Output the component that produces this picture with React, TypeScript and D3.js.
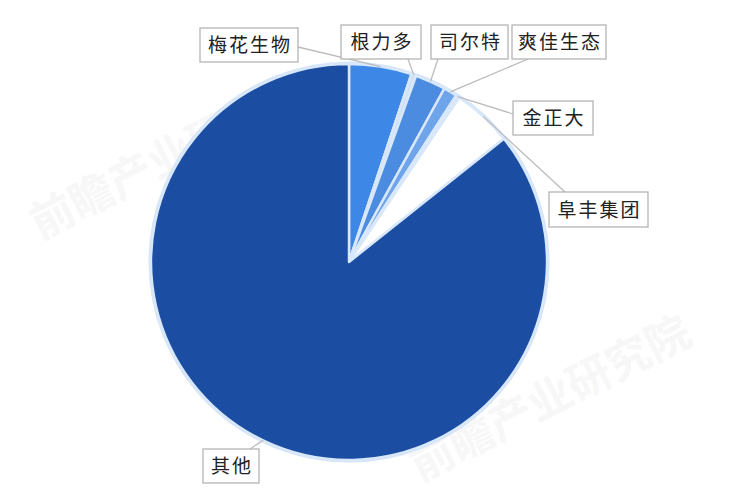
import { useRef, useEffect } from 'react'
import * as d3 from 'd3'

// share of market (%), clockwise from 12 o'clock
const companies = ['梅花生物', '根力多', '司尔特', '爽佳生态', '金正大', '阜丰集团', '其他']
const shares = [5.1, 0.4, 2.5, 1.1, 0.3, 4.9, 85.7]
const sliceColors = ['#3d87e6', '#cfe0f7', '#4c8ce0', '#6ea4ea', '#dbe8f8', '#ffffff', '#1b4ea2']

// label boxes: [x, y, w, h] and the point on the box the leader line starts from
const labelBoxes: [number, number, number, number][] = [
  [200, 28, 98, 34],
  [341, 25, 80, 34],
  [431, 25, 77, 34],
  [512, 25, 94, 34],
  [513, 101, 80, 34],
  [549, 192, 99, 35],
  [203, 449, 56, 34],
]
const leaderStarts: [number, number][] = [
  [298, 47],
  [408, 59],
  [438, 59],
  [528, 59],
  [513, 114],
  [565, 192],
  [250, 449],
]

export default function App() {
  const ref = useRef<SVGSVGElement>(null)

  useEffect(() => {
    if (!ref.current) return
    const svg = d3.select(ref.current)
    svg.selectAll('*').remove()

    const cx = 349
    const cy = 262
    const r = 198

    svg.append('rect').attr('width', 750).attr('height', 500).attr('fill', '#fff')

    // faint watermark
    const marks: [number, number, number][] = [
      [40, 240, -27],
      [420, 482, -27],
    ]
    marks.forEach(([x, y, a]) => {
      svg
        .append('text')
        .attr('transform', `translate(${x},${y}) rotate(${a})`)
        .attr('font-family', '"Noto Sans CJK SC", sans-serif')
        .attr('font-size', 44)
        .attr('font-weight', 700)
        .attr('fill', '#c8c8c8')
        .attr('opacity', 0.14)
        .text('前瞻产业研究院')
    })

    const pie = d3
      .pie<number>()
      .sort(null)
      .value((d) => d)
    const arcs = pie(shares)
    const arc = d3.arc<d3.PieArcDatum<number>>().innerRadius(0).outerRadius(r)

    const g = svg.append('g').attr('transform', `translate(${cx},${cy})`)

    // outer glow
    g.append('circle').attr('r', r + 1).attr('fill', 'none').attr('stroke', '#d6e6f9').attr('stroke-width', 3)

    g.selectAll('path.slice')
      .data(arcs)
      .enter()
      .append('path')
      .attr('class', 'slice')
      .attr('d', arc)
      .attr('fill', (_, i) => sliceColors[i])
      .attr('stroke', '#d8e7f9')
      .attr('stroke-width', 2.5)
      .attr('stroke-linejoin', 'round')

    // leader lines
    arcs.forEach((a, i) => {
      const mid = (a.startAngle + a.endAngle) / 2
      const ex = cx + r * Math.sin(mid)
      const ey = cy - r * Math.cos(mid)
      const [sx, sy] = leaderStarts[i]
      svg
        .append('line')
        .attr('x1', sx)
        .attr('y1', sy)
        .attr('x2', ex)
        .attr('y2', ey)
        .attr('stroke', '#bcbcbc')
        .attr('stroke-width', 1.3)
    })

    // label boxes
    companies.forEach((name, i) => {
      const [x, y, w, h] = labelBoxes[i]
      svg
        .append('rect')
        .attr('x', x)
        .attr('y', y)
        .attr('width', w)
        .attr('height', h)
        .attr('fill', '#fff')
        .attr('stroke', '#b4b4b4')
        .attr('stroke-width', 1.3)
      svg
        .append('text')
        .attr('x', x + w / 2 + 1)
        .attr('y', y + h / 2 + 7)
        .attr('text-anchor', 'middle')
        .attr('font-family', '"Noto Sans CJK SC", sans-serif')
        .attr('font-size', 19)
        .attr('letter-spacing', 2)
        .attr('fill', '#222')
        .text(name)
    })
  }, [])

  return (
    <div style={{ position: 'absolute', left: 0, top: 0 }}>
      <svg ref={ref} width={750} height={500} style={{ display: 'block' }} />
    </div>
  )
}
